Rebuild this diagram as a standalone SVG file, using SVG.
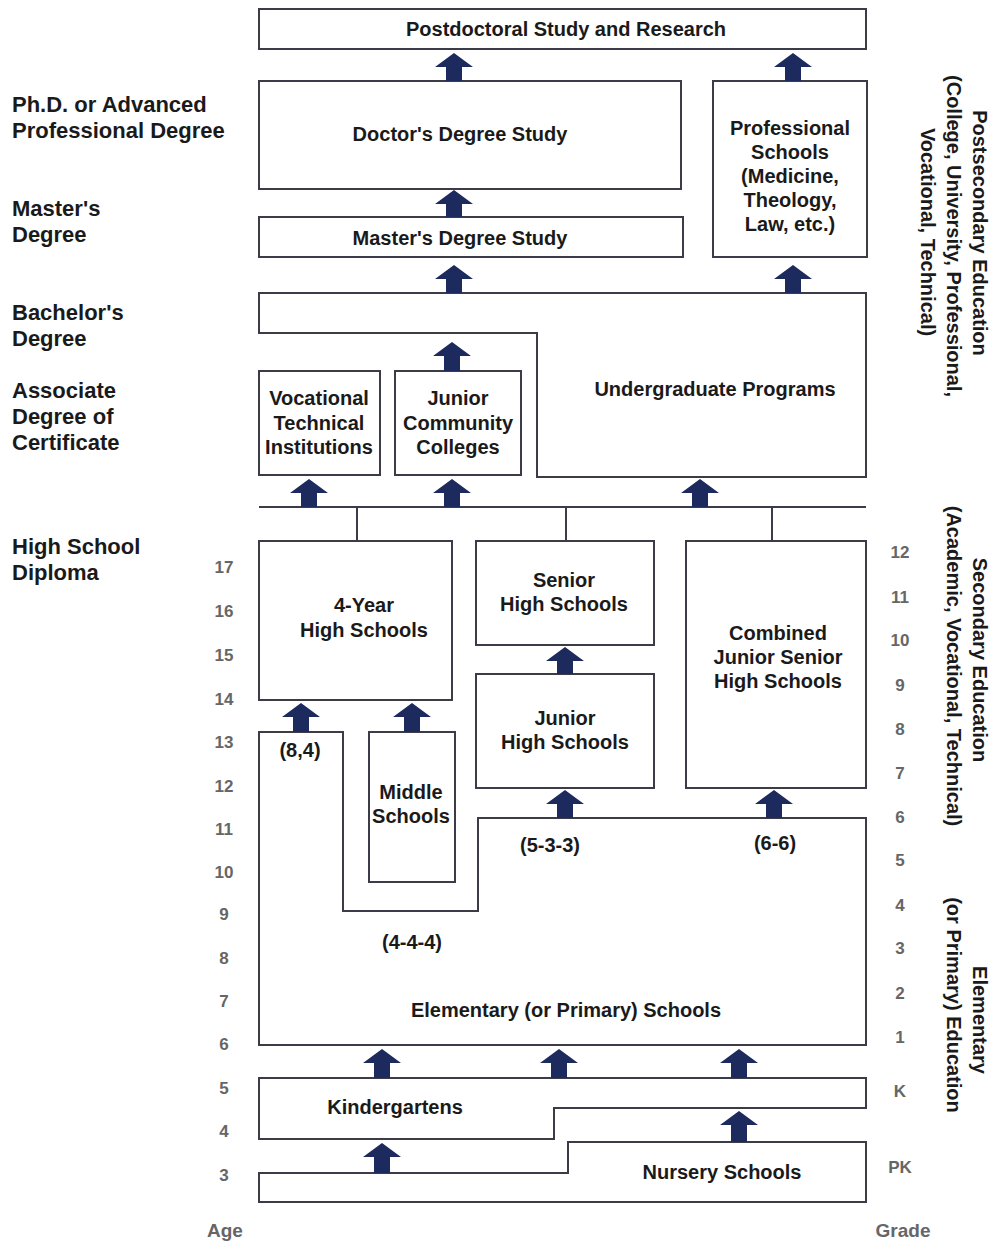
<svg xmlns="http://www.w3.org/2000/svg" width="994" height="1243" viewBox="0 0 994 1243">
<style>
.box{fill:#fff;stroke:#3c3c48;stroke-width:2}
.ln{fill:none;stroke:#3c3c48;stroke-width:2}
.arr{fill:#1d2a5e}
.t{font-family:"Liberation Sans",Arial,sans-serif;font-weight:bold;font-size:20px;fill:#1a1a1a;text-anchor:middle;dominant-baseline:central}
.lbl{font-family:"Liberation Sans",Arial,sans-serif;font-weight:bold;font-size:22px;fill:#1a1a1a;dominant-baseline:central}
.num{font-family:"Liberation Sans",Arial,sans-serif;font-weight:bold;font-size:17px;fill:#666;text-anchor:middle;dominant-baseline:central}
.v{font-family:"Liberation Sans",Arial,sans-serif;font-weight:bold;font-size:20px;fill:#1a1a1a;text-anchor:middle;dominant-baseline:central}
</style>
<rect width="994" height="1243" fill="#fff"/>

<g id="side-labels">
<text class="lbl" x="12" y="104">Ph.D. or Advanced</text>
<text class="lbl" x="12" y="130">Professional Degree</text>
<text class="lbl" x="12" y="208">Master's</text>
<text class="lbl" x="12" y="234">Degree</text>
<text class="lbl" x="12" y="312">Bachelor's</text>
<text class="lbl" x="12" y="338">Degree</text>
<text class="lbl" x="12" y="390">Associate</text>
<text class="lbl" x="12" y="416">Degree of</text>
<text class="lbl" x="12" y="442">Certificate</text>
<text class="lbl" x="12" y="546">High School</text>
<text class="lbl" x="12" y="572">Diploma</text>
</g>

<g id="ages">
<text class="num" x="224" y="567">17</text>
<text class="num" x="224" y="611">16</text>
<text class="num" x="224" y="655">15</text>
<text class="num" x="224" y="699">14</text>
<text class="num" x="224" y="742">13</text>
<text class="num" x="224" y="786">12</text>
<text class="num" x="224" y="829">11</text>
<text class="num" x="224" y="872">10</text>
<text class="num" x="224" y="914">9</text>
<text class="num" x="224" y="958">8</text>
<text class="num" x="224" y="1001">7</text>
<text class="num" x="224" y="1044">6</text>
<text class="num" x="224" y="1088">5</text>
<text class="num" x="224" y="1131">4</text>
<text class="num" x="224" y="1175">3</text>
<text class="num" x="225" y="1230" style="font-size:19px">Age</text>
</g>

<g id="grades">
<text class="num" x="900" y="552">12</text>
<text class="num" x="900" y="597">11</text>
<text class="num" x="900" y="640">10</text>
<text class="num" x="900" y="685">9</text>
<text class="num" x="900" y="729">8</text>
<text class="num" x="900" y="773">7</text>
<text class="num" x="900" y="817">6</text>
<text class="num" x="900" y="860">5</text>
<text class="num" x="900" y="905">4</text>
<text class="num" x="900" y="948">3</text>
<text class="num" x="900" y="993">2</text>
<text class="num" x="900" y="1037">1</text>
<text class="num" x="900" y="1091">K</text>
<text class="num" x="900" y="1167">PK</text>
<text class="num" x="903" y="1230" style="font-size:19px">Grade</text>
</g>

<g id="stage-labels">
<g transform="translate(980,233) rotate(90)"><text class="v" x="0" y="0">Postsecondary Education</text></g>
<g transform="translate(954,236) rotate(90)"><text class="v" x="0" y="0">(College, University, Professional,</text></g>
<g transform="translate(928,232) rotate(90)"><text class="v" x="0" y="0">Vocational, Technical)</text></g>
<g transform="translate(980,660) rotate(90)"><text class="v" x="0" y="0">Secondary Education</text></g>
<g transform="translate(954,666) rotate(90)"><text class="v" x="0" y="0">(Academic, Vocational, Technical)</text></g>
<g transform="translate(980,1020) rotate(90)"><text class="v" x="0" y="0">Elementary</text></g>
<g transform="translate(954,1005) rotate(90)"><text class="v" x="0" y="0">(or Primary) Education</text></g>
</g>

<g id="postdoc"><rect class="box" x="259" y="9" width="607" height="40"/><text class="t" x="566" y="29">Postdoctoral Study and Research</text></g>
<g id="doctor"><rect class="box" x="259" y="81" width="422" height="108"/><text class="t" x="460" y="134">Doctor's Degree Study</text></g>
<g id="master"><rect class="box" x="259" y="217" width="424" height="40"/><text class="t" x="460" y="238">Master's Degree Study</text></g>
<g id="professional"><rect class="box" x="713" y="81" width="154" height="176"/>
<text class="t" x="790" y="128">Professional</text><text class="t" x="790" y="152">Schools</text><text class="t" x="790" y="176">(Medicine,</text><text class="t" x="790" y="200">Theology,</text><text class="t" x="790" y="224">Law, etc.)</text></g>
<g id="undergrad"><path class="box" d="M259,293 H866 V477 H537 V333 H259 Z"/><text class="t" x="715" y="389">Undergraduate Programs</text></g>
<g id="vocational"><rect class="box" x="259" y="371" width="121" height="104"/>
<text class="t" x="319" y="398">Vocational</text><text class="t" x="319" y="423">Technical</text><text class="t" x="319" y="447">Institutions</text></g>
<g id="junior-college"><rect class="box" x="395" y="371" width="126" height="104"/>
<text class="t" x="458" y="398">Junior</text><text class="t" x="458" y="423">Community</text><text class="t" x="458" y="447">Colleges</text></g>
<g id="four-year"><rect class="box" x="259" y="541" width="193" height="159"/>
<text class="t" x="364" y="605">4-Year</text><text class="t" x="364" y="630">High Schools</text></g>
<g id="senior-high"><rect class="box" x="476" y="541" width="178" height="104"/>
<text class="t" x="564" y="580">Senior</text><text class="t" x="564" y="604">High Schools</text></g>
<g id="combined"><rect class="box" x="686" y="541" width="180" height="247"/>
<text class="t" x="778" y="633">Combined</text><text class="t" x="778" y="657">Junior Senior</text><text class="t" x="778" y="681">High Schools</text></g>
<g id="junior-high"><rect class="box" x="476" y="674" width="178" height="114"/>
<text class="t" x="565" y="718">Junior</text><text class="t" x="565" y="742">High Schools</text></g>
<g id="middle"><rect class="box" x="369" y="732" width="86" height="150"/>
<text class="t" x="411" y="792">Middle</text><text class="t" x="411" y="816">Schools</text></g>
<g id="elementary"><path class="box" d="M259,732 H343 V911 H478 V818 H866 V1045 H259 Z"/>
<text class="t" x="300" y="750">(8,4)</text><text class="t" x="550" y="845">(5-3-3)</text><text class="t" x="775" y="843">(6-6)</text><text class="t" x="412" y="942">(4-4-4)</text>
<text class="t" x="566" y="1010">Elementary (or Primary) Schools</text></g>
<g id="kindergarten"><path class="box" d="M259,1078 H866 V1108 H554 V1139 H259 Z"/><text class="t" x="395" y="1107">Kindergartens</text></g>
<g id="nursery"><path class="box" d="M259,1173 H568 V1142 H866 V1202 H259 Z"/><text class="t" x="722" y="1172">Nursery Schools</text></g>

<g id="connectors">
<path class="ln" d="M259,507 H866 M357,507 V541 M566,507 V541 M772,507 V541"/>
<g class="arr">
<path d="M454,53 L473,67 L462,67 L462,81 L446,81 L446,67 L435,67 Z"/>
<path d="M454,190 L473,204 L462,204 L462,217 L446,217 L446,204 L435,204 Z"/>
<path d="M454,265 L473,279 L462,279 L462,293 L446,293 L446,279 L435,279 Z"/>
<path d="M793,53 L812,67 L801,67 L801,81 L785,81 L785,67 L774,67 Z"/>
<path d="M793,265 L812,279 L801,279 L801,293 L785,293 L785,279 L774,279 Z"/>
<path d="M452,342 L471,356 L460,356 L460,371 L444,371 L444,356 L433,356 Z"/>
<path d="M309,479 L328,493 L317,493 L317,507 L301,507 L301,493 L290,493 Z"/>
<path d="M452,479 L471,493 L460,493 L460,507 L444,507 L444,493 L433,493 Z"/>
<path d="M700,479 L719,493 L708,493 L708,507 L692,507 L692,493 L681,493 Z"/>
<path d="M301,703 L320,717 L309,717 L309,732 L293,732 L293,717 L282,717 Z"/>
<path d="M412,703 L431,717 L420,717 L420,732 L404,732 L404,717 L393,717 Z"/>
<path d="M565,647 L584,661 L573,661 L573,674 L557,674 L557,661 L546,661 Z"/>
<path d="M565,790 L584,804 L573,804 L573,818 L557,818 L557,804 L546,804 Z"/>
<path d="M774,790 L793,804 L782,804 L782,818 L766,818 L766,804 L755,804 Z"/>
<path d="M382,1049 L401,1063 L390,1063 L390,1078 L374,1078 L374,1063 L363,1063 Z"/>
<path d="M559,1049 L578,1063 L567,1063 L567,1078 L551,1078 L551,1063 L540,1063 Z"/>
<path d="M739,1049 L758,1063 L747,1063 L747,1078 L731,1078 L731,1063 L720,1063 Z"/>
<path d="M382,1143 L401,1157 L390,1157 L390,1173 L374,1173 L374,1157 L363,1157 Z"/>
<path d="M739,1111 L758,1125 L747,1125 L747,1142 L731,1142 L731,1125 L720,1125 Z"/>
</g>
</g>
</svg>
